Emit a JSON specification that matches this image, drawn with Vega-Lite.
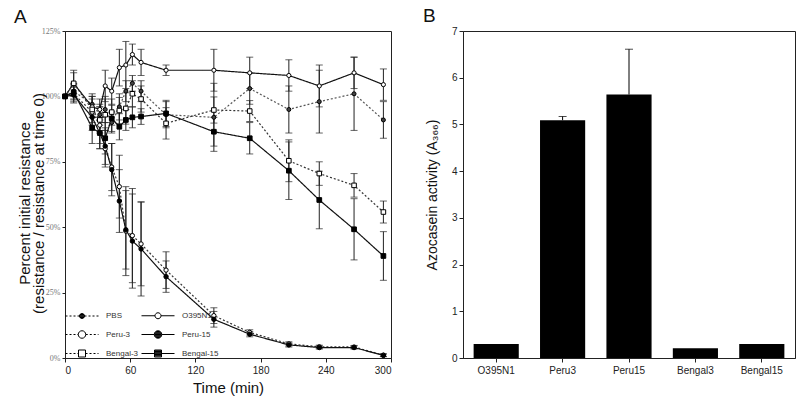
{
  "$schema": "https://vega.github.io/schema/vega-lite/v6.json",
  "background": "white",
  "padding": {"left": 13, "top": 6, "right": 0, "bottom": 0},
  "bounds": "flush",
  "spacing": 72,
  "config": {
    "font": "Liberation Sans",
    "view": {"stroke": "#222", "strokeWidth": 1},
    "axis": {"grid": false, "domainColor": "#222", "tickColor": "#222", "labelColor": "#222", "titleColor": "#111", "titleFontWeight": "normal", "labelFont": "Liberation Sans", "titleFont": "Liberation Sans"}
  },
  "datasets": {
    "res": [
      {"s": "PBS", "t": 0, "v": 100, "lo": null, "hi": null},
      {"s": "PBS", "t": 8, "v": 102, "lo": 99, "hi": 105},
      {"s": "PBS", "t": 25, "v": 97, "lo": 93, "hi": 101},
      {"s": "PBS", "t": 32, "v": 93, "lo": 89, "hi": 97},
      {"s": "PBS", "t": 37, "v": 95, "lo": 90, "hi": 100},
      {"s": "PBS", "t": 43, "v": 90, "lo": 86, "hi": 94},
      {"s": "PBS", "t": 50, "v": 96, "lo": 91, "hi": 101},
      {"s": "PBS", "t": 56, "v": 102, "lo": 98, "hi": 106},
      {"s": "PBS", "t": 62, "v": 105, "lo": 102, "hi": 108},
      {"s": "PBS", "t": 70, "v": 102, "lo": 98, "hi": 106},
      {"s": "PBS", "t": 93, "v": 93, "lo": 88, "hi": 98},
      {"s": "PBS", "t": 137, "v": 92, "lo": 79, "hi": 105},
      {"s": "PBS", "t": 170, "v": 103, "lo": 97, "hi": 109},
      {"s": "PBS", "t": 206, "v": 95, "lo": 86, "hi": 104},
      {"s": "PBS", "t": 234, "v": 98, "lo": 86, "hi": 110},
      {"s": "PBS", "t": 266, "v": 101, "lo": 87, "hi": 115},
      {"s": "PBS", "t": 293, "v": 91, "lo": 84, "hi": 98},
      {"s": "O395N1", "t": 0, "v": 100, "lo": null, "hi": null},
      {"s": "O395N1", "t": 8, "v": 105, "lo": 101, "hi": 109},
      {"s": "O395N1", "t": 25, "v": 96, "lo": 92, "hi": 100},
      {"s": "O395N1", "t": 32, "v": 95, "lo": 91, "hi": 99},
      {"s": "O395N1", "t": 37, "v": 104, "lo": 98, "hi": 110},
      {"s": "O395N1", "t": 43, "v": 102, "lo": 97, "hi": 107},
      {"s": "O395N1", "t": 50, "v": 111, "lo": 104, "hi": 118},
      {"s": "O395N1", "t": 56, "v": 112, "lo": 103, "hi": 121},
      {"s": "O395N1", "t": 62, "v": 116, "lo": 112, "hi": 120},
      {"s": "O395N1", "t": 70, "v": 113, "lo": 108, "hi": 118},
      {"s": "O395N1", "t": 93, "v": 110, "lo": 108, "hi": 112},
      {"s": "O395N1", "t": 137, "v": 110, "lo": 102, "hi": 118},
      {"s": "O395N1", "t": 170, "v": 109, "lo": 103, "hi": 115},
      {"s": "O395N1", "t": 206, "v": 108, "lo": 102, "hi": 114},
      {"s": "O395N1", "t": 234, "v": 104, "lo": 96, "hi": 112},
      {"s": "O395N1", "t": 266, "v": 109, "lo": 103, "hi": 115},
      {"s": "O395N1", "t": 293, "v": 104.5, "lo": 98.5, "hi": 110.5},
      {"s": "Peru-3", "t": 0, "v": 100, "lo": null, "hi": null},
      {"s": "Peru-3", "t": 8, "v": 101, "lo": 98, "hi": 104},
      {"s": "Peru-3", "t": 25, "v": 94, "lo": 89, "hi": 99},
      {"s": "Peru-3", "t": 32, "v": 89, "lo": 82, "hi": 96},
      {"s": "Peru-3", "t": 37, "v": 80, "lo": 73, "hi": 87},
      {"s": "Peru-3", "t": 43, "v": 73, "lo": 64, "hi": 82},
      {"s": "Peru-3", "t": 50, "v": 65.5, "lo": 53.5, "hi": 77.5},
      {"s": "Peru-3", "t": 56, "v": 48.5, "lo": 31.5, "hi": 65.5},
      {"s": "Peru-3", "t": 62, "v": 46.8, "lo": 28.8, "hi": 64.8},
      {"s": "Peru-3", "t": 70, "v": 43.6, "lo": 27.6, "hi": 59.6},
      {"s": "Peru-3", "t": 93, "v": 33.6, "lo": 26.6, "hi": 40.6},
      {"s": "Peru-3", "t": 137, "v": 16.2, "lo": 13.2, "hi": 19.2},
      {"s": "Peru-3", "t": 170, "v": 9.8, "lo": 8.8, "hi": 10.8},
      {"s": "Peru-3", "t": 206, "v": 5.4, "lo": 4.6, "hi": 6.2},
      {"s": "Peru-3", "t": 234, "v": 4.3, "lo": 3.7, "hi": 4.9},
      {"s": "Peru-3", "t": 266, "v": 4.2, "lo": 3.6, "hi": 4.8},
      {"s": "Peru-3", "t": 293, "v": 1.1, "lo": 0.6, "hi": 1.6},
      {"s": "Peru-15", "t": 0, "v": 100, "lo": null, "hi": null},
      {"s": "Peru-15", "t": 8, "v": 100.5, "lo": 97.5, "hi": 103.5},
      {"s": "Peru-15", "t": 25, "v": 92, "lo": 87, "hi": 97},
      {"s": "Peru-15", "t": 32, "v": 86, "lo": 80, "hi": 92},
      {"s": "Peru-15", "t": 37, "v": 81, "lo": 74, "hi": 88},
      {"s": "Peru-15", "t": 43, "v": 72, "lo": 62, "hi": 82},
      {"s": "Peru-15", "t": 50, "v": 60, "lo": 48, "hi": 72},
      {"s": "Peru-15", "t": 56, "v": 49, "lo": 34, "hi": 64},
      {"s": "Peru-15", "t": 62, "v": 44.7, "lo": 26.7, "hi": 62.7},
      {"s": "Peru-15", "t": 70, "v": 41.7, "lo": 23.7, "hi": 59.7},
      {"s": "Peru-15", "t": 93, "v": 31.1, "lo": 25.1, "hi": 37.1},
      {"s": "Peru-15", "t": 137, "v": 14.8, "lo": 11.8, "hi": 17.8},
      {"s": "Peru-15", "t": 170, "v": 9.1, "lo": 8.1, "hi": 10.1},
      {"s": "Peru-15", "t": 206, "v": 5.0, "lo": 4.2, "hi": 5.8},
      {"s": "Peru-15", "t": 234, "v": 4.0, "lo": 3.4, "hi": 4.6},
      {"s": "Peru-15", "t": 266, "v": 4.0, "lo": 3.4, "hi": 4.6},
      {"s": "Peru-15", "t": 293, "v": 1.0, "lo": 0.5, "hi": 1.5},
      {"s": "Bengal-3", "t": 0, "v": 100, "lo": null, "hi": null},
      {"s": "Bengal-3", "t": 8, "v": 105, "lo": 100, "hi": 110},
      {"s": "Bengal-3", "t": 25, "v": 95, "lo": 90, "hi": 100},
      {"s": "Bengal-3", "t": 32, "v": 91, "lo": 86, "hi": 96},
      {"s": "Bengal-3", "t": 37, "v": 93, "lo": 87, "hi": 99},
      {"s": "Bengal-3", "t": 43, "v": 94, "lo": 89, "hi": 99},
      {"s": "Bengal-3", "t": 50, "v": 94.6, "lo": 89.6, "hi": 99.6},
      {"s": "Bengal-3", "t": 56, "v": 95.4, "lo": 89.4, "hi": 101.4},
      {"s": "Bengal-3", "t": 62, "v": 101, "lo": 96, "hi": 106},
      {"s": "Bengal-3", "t": 70, "v": 99, "lo": 94, "hi": 104},
      {"s": "Bengal-3", "t": 93, "v": 89.7, "lo": 83.7, "hi": 95.7},
      {"s": "Bengal-3", "t": 137, "v": 94.8, "lo": 89.8, "hi": 99.8},
      {"s": "Bengal-3", "t": 170, "v": 94.4, "lo": 90.4, "hi": 98.4},
      {"s": "Bengal-3", "t": 206, "v": 75.4, "lo": 67.4, "hi": 83.4},
      {"s": "Bengal-3", "t": 234, "v": 70.5, "lo": 66, "hi": 75},
      {"s": "Bengal-3", "t": 266, "v": 66, "lo": 61.5, "hi": 70.5},
      {"s": "Bengal-3", "t": 293, "v": 55.8, "lo": 51.6, "hi": 60},
      {"s": "Bengal-15", "t": 0, "v": 100, "lo": null, "hi": null},
      {"s": "Bengal-15", "t": 8, "v": 101.6, "lo": 98.6, "hi": 104.6},
      {"s": "Bengal-15", "t": 25, "v": 88, "lo": 82, "hi": 94},
      {"s": "Bengal-15", "t": 32, "v": 86, "lo": 80, "hi": 92},
      {"s": "Bengal-15", "t": 37, "v": 84, "lo": 78, "hi": 90},
      {"s": "Bengal-15", "t": 43, "v": 91.6, "lo": 86.6, "hi": 96.6},
      {"s": "Bengal-15", "t": 50, "v": 88.4, "lo": 83.4, "hi": 93.4},
      {"s": "Bengal-15", "t": 56, "v": 91, "lo": 87, "hi": 95},
      {"s": "Bengal-15", "t": 62, "v": 92, "lo": 88, "hi": 96},
      {"s": "Bengal-15", "t": 70, "v": 92.3, "lo": 89.3, "hi": 95.3},
      {"s": "Bengal-15", "t": 93, "v": 93.5, "lo": 88.5, "hi": 98.5},
      {"s": "Bengal-15", "t": 137, "v": 86.5, "lo": 81, "hi": 92},
      {"s": "Bengal-15", "t": 170, "v": 84, "lo": 78, "hi": 90},
      {"s": "Bengal-15", "t": 206, "v": 71.6, "lo": 60.6, "hi": 82.6},
      {"s": "Bengal-15", "t": 234, "v": 60.4, "lo": 49.4, "hi": 71.4},
      {"s": "Bengal-15", "t": 266, "v": 49.2, "lo": 37.5, "hi": 60.9},
      {"s": "Bengal-15", "t": 293, "v": 39, "lo": 29.7, "hi": 48.3}
    ],
    "azo": [
      {"strain": "O395N1", "a": 0.3, "hi": null},
      {"strain": "Peru3", "a": 5.09, "hi": 5.17},
      {"strain": "Peru15", "a": 5.64, "hi": 6.61},
      {"strain": "Bengal3", "a": 0.21, "hi": null},
      {"strain": "Bengal15", "a": 0.3, "hi": null}
    ]
  },
  "hconcat": [
    {
      "width": 326,
      "height": 327,
      "title": {"text": "A", "anchor": "start", "frame": "group", "dx": -51, "offset": 0, "fontSize": 19, "fontWeight": "normal", "color": "#111", "font": "Liberation Sans"},
      "data": {"name": "res"},
      "resolve": {"scale": {"shape": "independent"}},
      "layer": [
        {
          "transform": [{"filter": "isValid(datum.lo)"}],
          "mark": {"type": "rule", "color": "#222", "strokeWidth": 1},
          "encoding": {
            "x": {"field": "t", "type": "quantitative", "scale": {"domain": [0, 300], "nice": false},
              "axis": {"values": [0, 60, 120, 180, 240, 300], "title": "Time (min)", "labelFontSize": 10, "titleFontSize": 15, "titleFontWeight": "normal", "tickSize": 4, "labelPadding": 3, "titlePadding": 5}},
            "y": {"field": "lo", "type": "quantitative", "scale": {"domain": [0, 125], "nice": false},
              "axis": {"values": [0, 25, 50, 75, 100, 125], "labelExpr": "datum.value + '%'", "labelFont": "Liberation Serif", "labelFontSize": 8, "labelColor": "#777", "tickSize": 3, "labelPadding": 2,
                "title": ["Percent initial resistance", "(resistance / resistance at time 0)"], "titleFontSize": 15, "titleFontWeight": "normal", "titleLineHeight": 14, "titlePadding": -5, "titleY": 172}},
            "y2": {"field": "hi"}
          }
        },
        {
          "transform": [{"filter": "isValid(datum.lo)"}],
          "mark": {"type": "tick", "orient": "horizontal", "size": 7, "thickness": 1, "color": "#222"},
          "encoding": {
            "x": {"field": "t", "type": "quantitative"},
            "y": {"field": "lo", "type": "quantitative", "title": ["Percent initial resistance", "(resistance / resistance at time 0)"]}
          }
        },
        {
          "transform": [{"filter": "isValid(datum.hi)"}],
          "mark": {"type": "tick", "orient": "horizontal", "size": 7, "thickness": 1, "color": "#222"},
          "encoding": {
            "x": {"field": "t", "type": "quantitative"},
            "y": {"field": "hi", "type": "quantitative", "title": ["Percent initial resistance", "(resistance / resistance at time 0)"]}
          }
        },
        {
          "mark": {"type": "line", "strokeWidth": 1.2},
          "encoding": {
            "x": {"field": "t", "type": "quantitative"},
            "y": {"field": "v", "type": "quantitative", "title": ["Percent initial resistance", "(resistance / resistance at time 0)"]},
            "stroke": {"field": "s", "type": "nominal", "legend": null,
              "scale": {"domain": ["PBS", "O395N1", "Peru-3", "Peru-15", "Bengal-3", "Bengal-15"], "range": ["#555", "#111", "#333", "#111", "#333", "#111"]}},
            "strokeDash": {"field": "s", "type": "nominal", "legend": null,
              "scale": {"domain": ["PBS", "O395N1", "Peru-3", "Peru-15", "Bengal-3", "Bengal-15"], "range": [[2, 2], [1, 0], [2, 2], [1, 0], [2, 2], [1, 0]]}}
          }
        },
        {
          "mark": {"type": "point", "stroke": "#000", "strokeWidth": 1, "opacity": 1},
          "encoding": {
            "x": {"field": "t", "type": "quantitative"},
            "y": {"field": "v", "type": "quantitative", "title": ["Percent initial resistance", "(resistance / resistance at time 0)"]},
            "shape": {"field": "s", "type": "nominal", "legend": null,
              "scale": {"domain": ["PBS", "O395N1", "Peru-3", "Peru-15", "Bengal-3", "Bengal-15"], "range": ["circle", "circle", "circle", "circle", "square", "square"]}},
            "fill": {"field": "s", "type": "nominal", "legend": null,
              "scale": {"domain": ["PBS", "O395N1", "Peru-3", "Peru-15", "Bengal-3", "Bengal-15"], "range": ["#444", "#fff", "#fff", "#000", "#fff", "#000"]}},
            "size": {"field": "s", "type": "ordinal", "legend": null,
              "scale": {"domain": ["PBS", "O395N1", "Peru-3", "Peru-15", "Bengal-3", "Bengal-15"], "range": [16, 22, 40, 40, 42, 42]}}
          }
        },
        {
          "transform": [{"filter": "datum.t == 0"}],
          "mark": {"type": "point", "opacity": 0},
          "encoding": {
            "x": {"field": "t", "type": "quantitative"},
            "y": {"field": "v", "type": "quantitative", "title": ["Percent initial resistance", "(resistance / resistance at time 0)"]},
            "shape": {"field": "s", "type": "nominal",
              "scale": {"domain": ["PBS", "O395N1", "Peru-3", "Peru-15", "Bengal-3", "Bengal-15"],
                "range": [
                  "M-1,0H-0.6M-0.2,0H0.2M0.6,0H1M1.4,0H1.8M2.8,0H3.2M3.6,0H4M4.4,0H4.8M5.2,0H5.6M2.8,0A0.5,0.5,0,1,1,1.8,0A0.5,0.5,0,1,1,2.8,0ZM1.9,-0.3H2.7M1.823,-0.15H2.777M1.8,0H2.8M1.823,0.15H2.777M1.9,0.3H2.7",
                  "M-1,0H1.7M2.9,0H5.6M2.9,0A0.6,0.6,0,1,1,1.7,0A0.6,0.6,0,1,1,2.9,0Z",
                  "M-1,0H-0.6M-0.2,0H0.2M0.6,0H1M1.4,0H1.55M3.05,0H3.45M3.85,0H4.25M4.65,0H5.05M5.45,0H5.6M3.05,0A0.75,0.75,0,1,1,1.55,0A0.75,0.75,0,1,1,3.05,0Z",
                  "M-1,0H1.55M3.05,0H5.6M3.05,0A0.75,0.75,0,1,1,1.55,0A0.75,0.75,0,1,1,3.05,0ZM1.94,-0.6H2.66M1.764,-0.45H2.836M1.668,-0.3H2.932M1.616,-0.15H2.984M1.6,0H3M1.616,0.15H2.984M1.668,0.3H2.932M1.764,0.45H2.836M1.94,0.6H2.66",
                  "M-1,0H-0.6M-0.2,0H0.2M0.6,0H1M1.4,0H1.6M3,0H3.4M3.8,0H4.2M4.6,0H5M5.4,0H5.6M1.6,-0.7H3V0.7H1.6Z",
                  "M-1,0H1.6M3,0H5.6M1.6,-0.7H3V0.7H1.6ZM1.6,-0.55H3M1.6,-0.4H3M1.6,-0.25H3M1.6,-0.1H3M1.6,0.05H3M1.6,0.2H3M1.6,0.35H3M1.6,0.5H3"
                ]},
              "legend": {
                "orient": "none", "legendX": 0, "legendY": 279, "columns": 2, "direction": "horizontal", "title": null, "padding": 0,
                "labelFontSize": 8, "labelColor": "#333", "labelFont": "Liberation Sans", "labelOffset": 30,
                "symbolSize": 100, "symbolStrokeWidth": 1, "symbolStrokeColor": "#000", "symbolFillColor": "transparent", "symbolOpacity": 1,
                "rowPadding": 7, "columnPadding": 0
              }
            }
          }
        }
      ]
    },
    {
      "width": 332,
      "height": 327,
      "title": {"text": "B", "anchor": "start", "frame": "group", "dx": -40, "offset": 0, "fontSize": 19, "fontWeight": "normal", "color": "#111", "font": "Liberation Sans"},
      "data": {"name": "azo"},
      "layer": [
        {
          "mark": {"type": "bar", "color": "#000"},
          "encoding": {
            "x": {"field": "strain", "type": "nominal", "sort": null, "scale": {"paddingInner": 0.32, "paddingOuter": 0.16},
              "axis": {"title": null, "labelAngle": 0, "labelFontSize": 10, "tickSize": 4, "labelPadding": 3}},
            "y": {"field": "a", "type": "quantitative", "scale": {"domain": [0, 7], "nice": false},
              "axis": {"values": [0, 1, 2, 3, 4, 5, 6, 7], "title": "Azocasein activity (A₃₆₆)", "titleFontSize": 14, "titleFontWeight": "normal", "labelFontSize": 10, "tickSize": 4, "labelPadding": 2, "titlePadding": 12}}
          }
        },
        {
          "transform": [{"filter": "isValid(datum.hi)"}],
          "mark": {"type": "rule", "color": "#000", "strokeWidth": 1},
          "encoding": {
            "x": {"field": "strain", "type": "nominal", "sort": null},
            "y": {"field": "a", "type": "quantitative", "title": "Azocasein activity (A₃₆₆)"},
            "y2": {"field": "hi"}
          }
        },
        {
          "transform": [{"filter": "isValid(datum.hi)"}],
          "mark": {"type": "tick", "orient": "horizontal", "size": 8, "thickness": 1, "color": "#000"},
          "encoding": {
            "x": {"field": "strain", "type": "nominal", "sort": null},
            "y": {"field": "hi", "type": "quantitative", "title": "Azocasein activity (A₃₆₆)"}
          }
        }
      ]
    }
  ]
}
